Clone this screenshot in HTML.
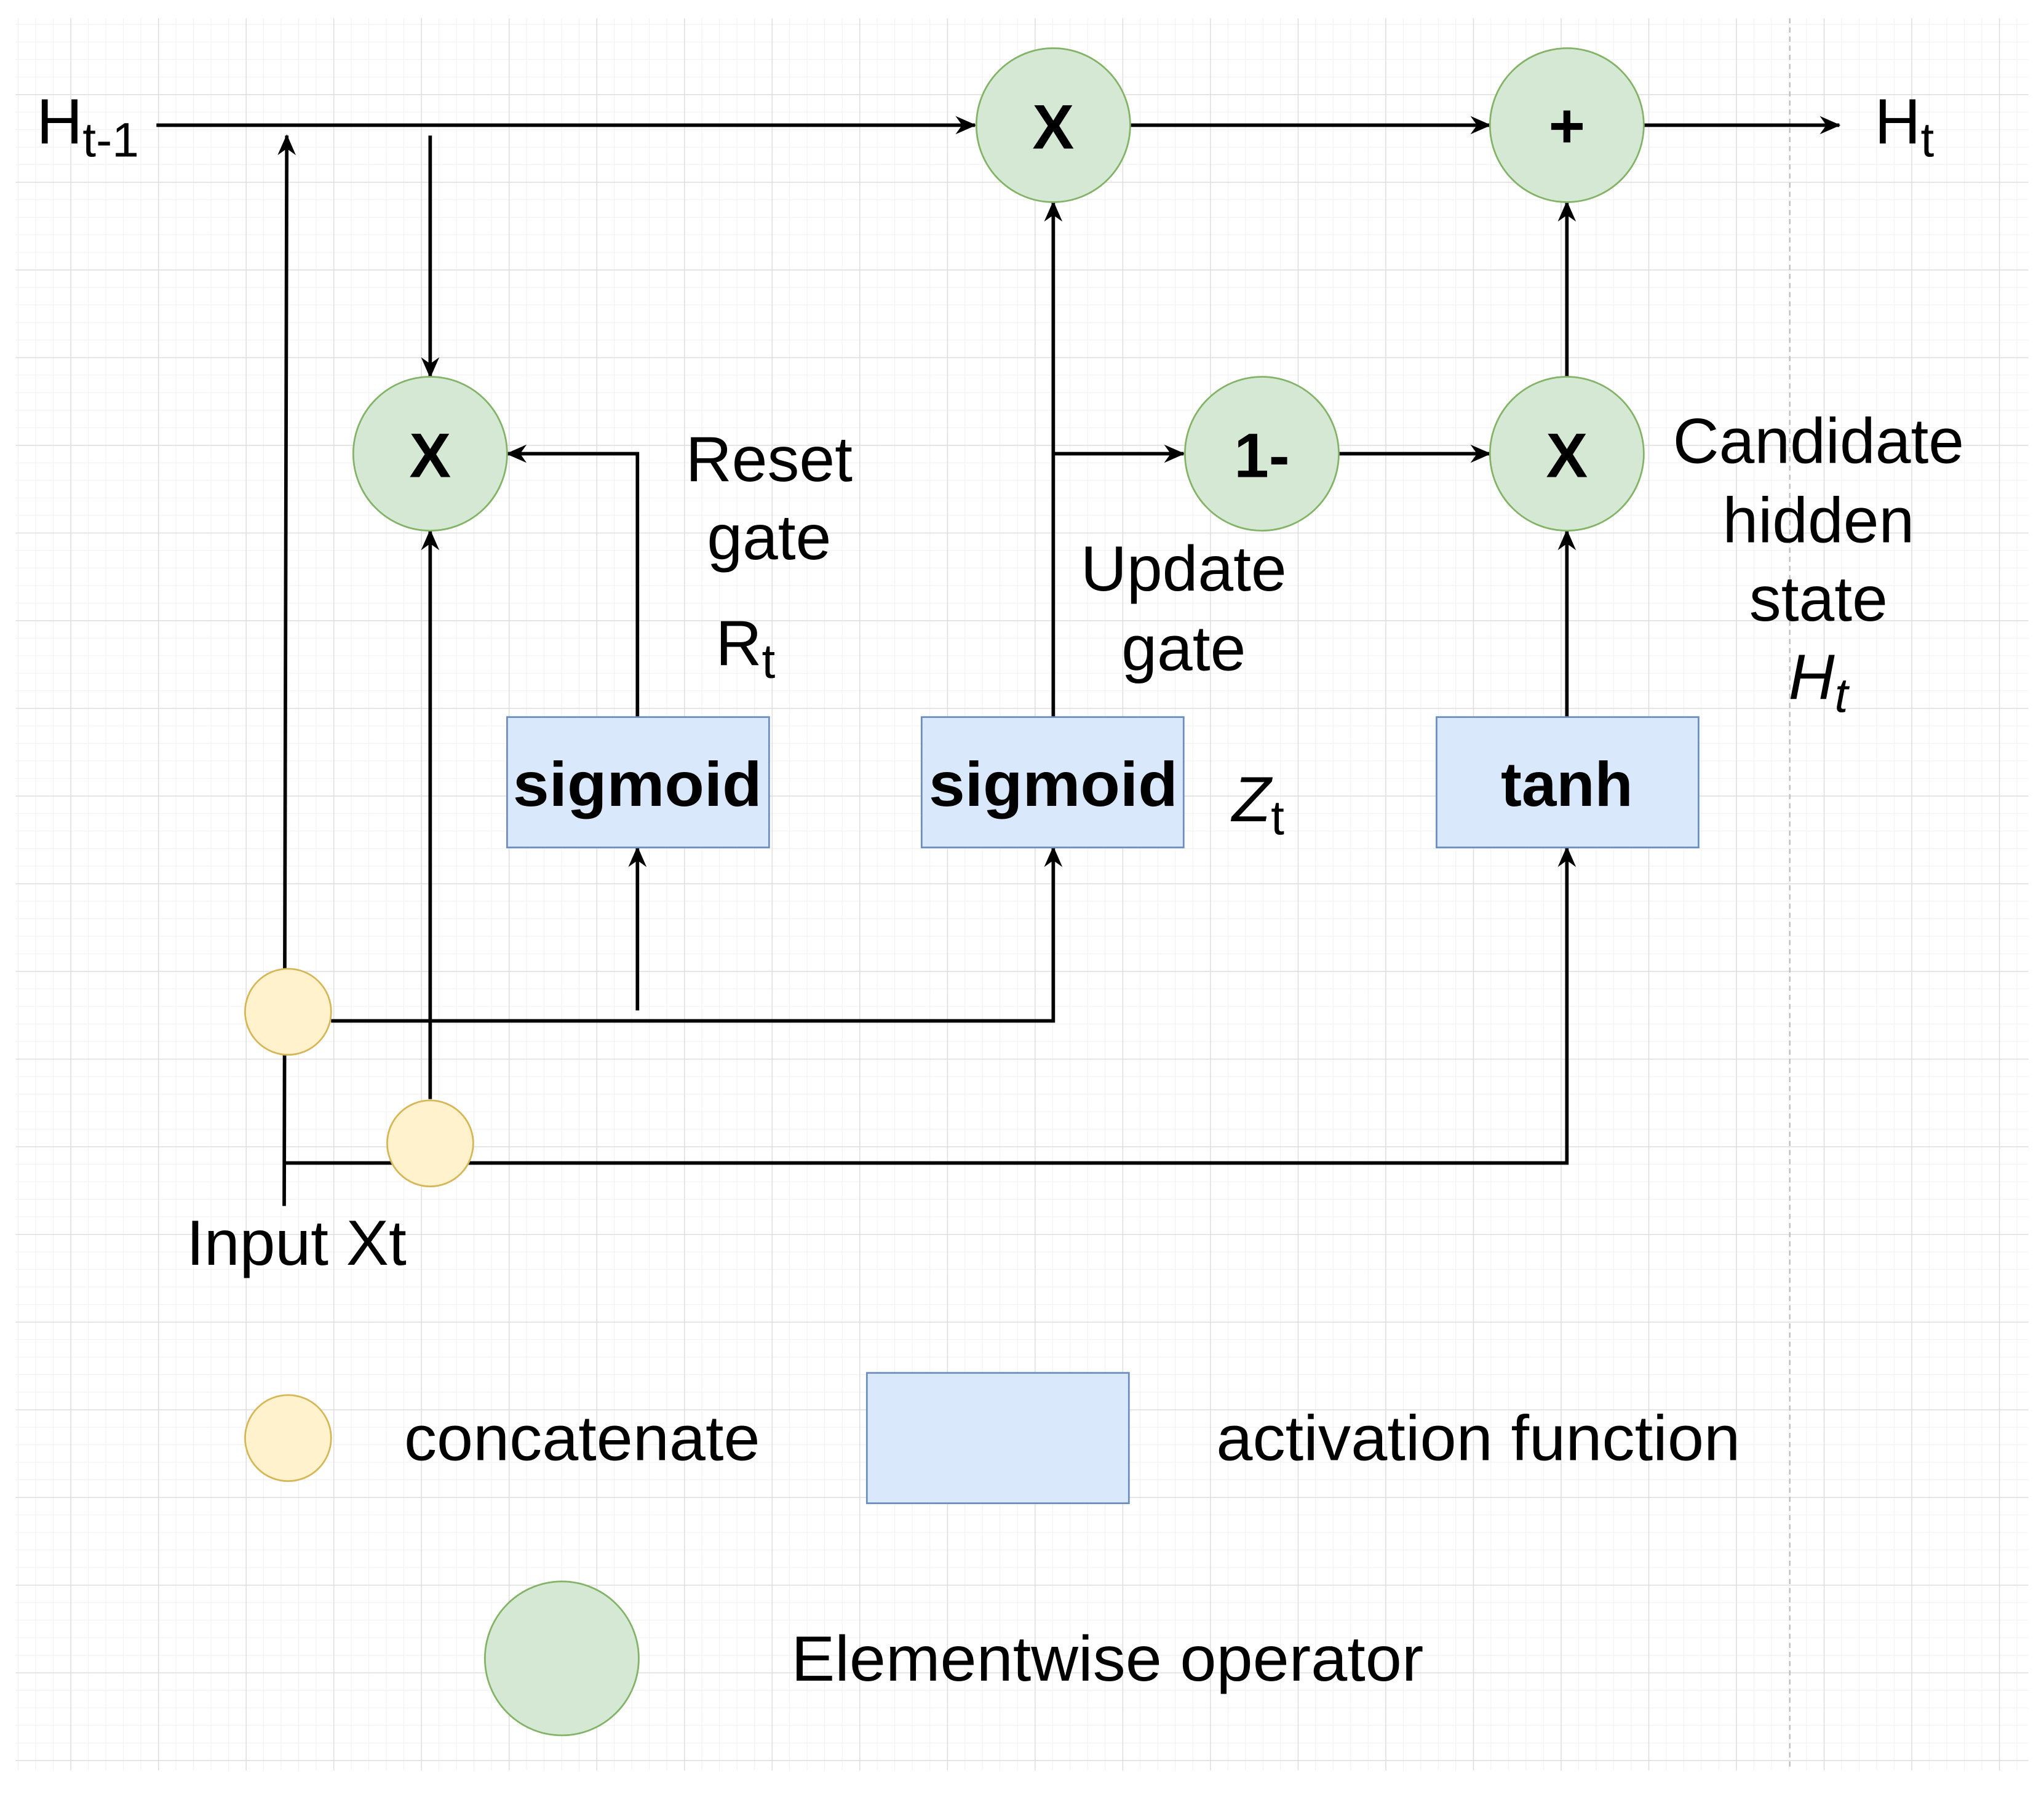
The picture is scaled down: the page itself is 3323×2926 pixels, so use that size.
<!DOCTYPE html>
<html><head><meta charset="utf-8"><style>html,body{margin:0;padding:0;background:#fff}svg{display:block}</style></head>
<body>
<svg xmlns="http://www.w3.org/2000/svg" width="3323" height="2926" viewBox="0 0 1568 1380.6" preserveAspectRatio="none" font-family="Liberation Sans, Arial, sans-serif">
<defs>
<pattern id="minor" x="54" y="5" width="13.45" height="13.45" patternUnits="userSpaceOnUse">
<path d="M0 0H13.45M0 0V13.45" stroke="#f1f1f1" stroke-width="1" fill="none"/>
</pattern>
<pattern id="major" x="54" y="5" width="67.25" height="67.25" patternUnits="userSpaceOnUse">
<path d="M0 0H67.25M0 0V67.25" stroke="#dcdcdc" stroke-width="1.3" fill="none"/>
</pattern>
<marker id="a" markerWidth="16" markerHeight="16" refX="15" refY="8" orient="auto" markerUnits="userSpaceOnUse" viewBox="0 0 16 16">
<path d="M0 1 L16 8 L0 15 L5 8 Z" fill="#000"/>
</marker>
</defs>
<rect x="0" y="0" width="1568" height="1381" fill="#fff"/>
<rect x="12" y="14" width="1544" height="1344" fill="url(#minor)"/>
<rect x="12" y="14" width="1544" height="1344" fill="url(#major)"/>
<line x1="1373" y1="14" x2="1373" y2="1358" stroke="#bbb" stroke-width="1" stroke-dasharray="4 3"/>

<g stroke="#000" stroke-width="2.7" fill="none">
<line x1="120" y1="96" x2="748" y2="96" marker-end="url(#a)"/>
<line x1="866" y1="96" x2="1143" y2="96" marker-end="url(#a)"/>
<line x1="1261" y1="96" x2="1411" y2="96" marker-end="url(#a)"/>
<line x1="218" y1="925" x2="220" y2="104" marker-end="url(#a)"/>
<line x1="330" y1="104" x2="330" y2="289" marker-end="url(#a)"/>
<line x1="330" y1="843" x2="330" y2="407" marker-end="url(#a)"/>
<polyline points="489,550 489,348 389,348" marker-end="url(#a)"/>
<line x1="489" y1="775" x2="489" y2="650" marker-end="url(#a)"/>
<polyline points="254,783 808,783 808,650" marker-end="url(#a)"/>
<line x1="808" y1="550" x2="808" y2="155" marker-end="url(#a)"/>
<line x1="808" y1="348" x2="908" y2="348" marker-end="url(#a)"/>
<line x1="1027" y1="348" x2="1143" y2="348" marker-end="url(#a)"/>
<line x1="1202" y1="550" x2="1202" y2="407" marker-end="url(#a)"/>
<line x1="1202" y1="290" x2="1202" y2="155" marker-end="url(#a)"/>
<polyline points="218,892 1202,892 1202,650" marker-end="url(#a)"/>
</g>

<g fill="#d5e8d4" stroke="#82b366" stroke-width="1.3">
<ellipse cx="808" cy="96" rx="59" ry="59"/>
<ellipse cx="1202" cy="96" rx="59" ry="59"/>
<ellipse cx="330" cy="348" rx="59" ry="59"/>
<ellipse cx="968" cy="348" rx="59" ry="59"/>
<ellipse cx="1202" cy="348" rx="59" ry="59"/>
<ellipse cx="431" cy="1272" rx="59" ry="59"/>
</g>
<g fill="#fff2cc" stroke="#d6b656" stroke-width="1.3">
<ellipse cx="221" cy="776" rx="33" ry="33"/>
<ellipse cx="330" cy="877" rx="33" ry="33"/>
<ellipse cx="221" cy="1103" rx="33" ry="33"/>
</g>
<g fill="#dae8fc" stroke="#6c8ebf" stroke-width="1.3">
<rect x="389" y="550" width="201" height="100"/>
<rect x="707" y="550" width="201" height="100"/>
<rect x="1102" y="550" width="201" height="100"/>
<rect x="665" y="1053" width="201" height="100"/>
</g>

<g font-weight="bold" font-size="48" text-anchor="middle" fill="#000">
<text x="808" y="114">X</text>
<text x="1202" y="113">+</text>
<text x="330" y="366">X</text>
<text x="968" y="366">1-</text>
<text x="1202" y="366">X</text>
<text x="489" y="618" textLength="191" lengthAdjust="spacingAndGlyphs">sigmoid</text>
<text x="808" y="618" textLength="191" lengthAdjust="spacingAndGlyphs">sigmoid</text>
<text x="1202" y="618">tanh</text>
</g>

<g font-size="49" fill="#000">
<text x="28" y="110">H<tspan font-size="37" dy="10">t-1</tspan></text>
<text x="1438" y="110">H<tspan font-size="37" dy="10">t</tspan></text>
<text x="590" y="369" text-anchor="middle">Reset</text>
<text x="590" y="429" text-anchor="middle">gate</text>
<text x="549" y="510">R<tspan font-size="37" dy="10">t</tspan></text>
<text x="908" y="453" text-anchor="middle">Update</text>
<text x="908" y="514" text-anchor="middle">gate</text>
<text x="945" y="630" font-style="italic">Z<tspan font-size="37" dy="10" font-style="normal">t</tspan></text>
<text x="1395" y="355" text-anchor="middle">Candidate</text>
<text x="1395" y="416" text-anchor="middle">hidden</text>
<text x="1395" y="476" text-anchor="middle">state</text>
<text x="1372" y="536" font-style="italic">H<tspan font-size="37" dy="10">t</tspan></text>
<text x="143" y="970">Input Xt</text>
<text x="310" y="1120" textLength="273" lengthAdjust="spacingAndGlyphs">concatenate</text>
<text x="933" y="1120" textLength="402" lengthAdjust="spacingAndGlyphs">activation function</text>
<text x="607" y="1289" textLength="485" lengthAdjust="spacingAndGlyphs">Elementwise operator</text>
</g>
</svg>
</body></html>
